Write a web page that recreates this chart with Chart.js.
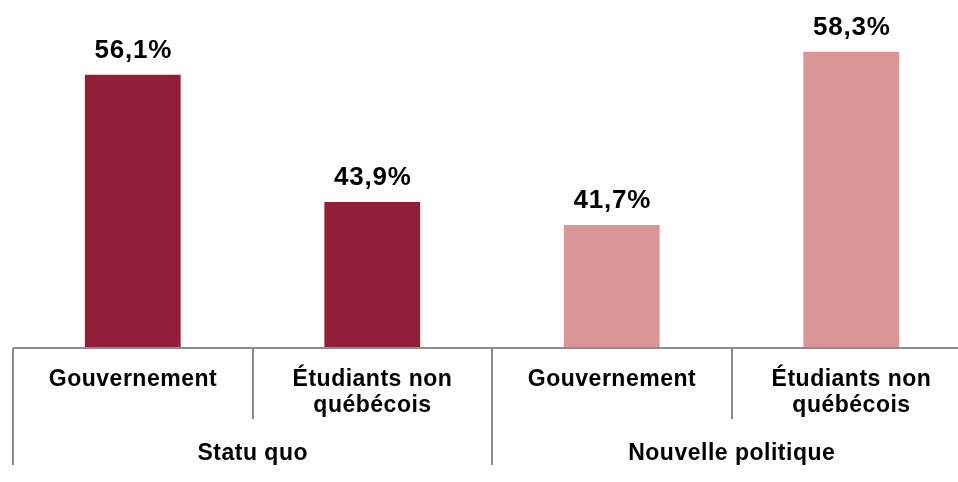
<!DOCTYPE html>
<html>
<head>
<meta charset="utf-8">
<script src="https://cdn.jsdelivr.net/npm/chart.js@4"></script>
<style>
html,body{margin:0;padding:0;background:#fff;overflow:hidden;}
#wrap{position:relative;width:985px;height:482px;}
</style>
</head>
<body>
<div id="wrap"><canvas id="c"></canvas></div>
<script>
const categories = [["Gouvernement"], ["Étudiants non", "québécois"], ["Gouvernement"], ["Étudiants non", "québécois"]];
const groups = ["Statu quo", "Nouvelle politique"];
const values = [56.1, 43.9, 41.7, 58.3];
const valueLabels = ["56,1%", "43,9%", "41,7%", "58,3%"];
const barColors = ["#921E38", "#921E38", "#DA9695", "#DA9695"];

const FONT = "'Liberation Sans', Arial, sans-serif";
const LINE = "#8C8C8C";

const annot = {
  id: "annot",
  afterDatasetsDraw(chart) {
    const ctx = chart.ctx;
    const xs = chart.scales.x;
    const area = chart.chartArea;
    const base = area.bottom;
    const n = categories.length;
    const step = (xs.getPixelForValue(1) - xs.getPixelForValue(0));
    ctx.save();
    // value labels
    const meta = chart.getDatasetMeta(0);
    ctx.fillStyle = "#000";
    ctx.font = "bold 26px " + FONT;
    ctx.textAlign = "center";
    ctx.textBaseline = "alphabetic";
    try { ctx.letterSpacing = "0.8px"; } catch(e) {}
    meta.data.forEach((bar, i) => {
      ctx.fillText(valueLabels[i], bar.x + 0.5, bar.y - 17);
    });
    // axis line
    ctx.strokeStyle = LINE;
    ctx.lineWidth = 2;
    ctx.beginPath();
    ctx.moveTo(xs.getPixelForValue(0) - step / 2, base + 1);
    ctx.lineTo(chart.width, base + 1);
    ctx.stroke();
    // separators
    for (let i = 0; i <= n; i++) {
      const x = Math.round(xs.getPixelForValue(i) - step / 2);
      const full = (i % 2 === 0);
      ctx.beginPath();
      ctx.moveTo(x, base + 1);
      ctx.lineTo(x, full ? base + 118 : base + 72);
      ctx.stroke();
    }
    // category labels
    ctx.font = "bold 23px " + FONT;
    try { ctx.letterSpacing = "0.5px"; } catch(e) {}
    categories.forEach((lines, i) => {
      const x = xs.getPixelForValue(i) + 0.25;
      lines.forEach((t, j) => ctx.fillText(t, x, base + 39 + j * 26));
    });
    // group labels
    groups.forEach((g, k) => {
      const x = (xs.getPixelForValue(2 * k) + xs.getPixelForValue(2 * k + 1)) / 2 + 0.25;
      ctx.fillText(g, x, base + 113);
    });
    ctx.restore();
  }
};

new Chart(document.getElementById("c"), {
  type: "bar",
  data: {
    labels: categories.map(c => c.join(" ")),
    datasets: [{
      data: values,
      backgroundColor: barColors,
      borderWidth: 0,
      barPercentage: 0.4,
      categoryPercentage: 1.0
    }]
  },
  options: {
    responsive: true,
    maintainAspectRatio: false,
    animation: false,
    layout: { padding: { left: 13, right: 14, top: 34, bottom: 135 } },
    plugins: { legend: { display: false }, tooltip: { enabled: false } },
    scales: {
      x: { display: false },
      y: { display: false, min: 30, max: 60 }
    }
  },
  plugins: [annot]
});
</script>
</body>
</html>
